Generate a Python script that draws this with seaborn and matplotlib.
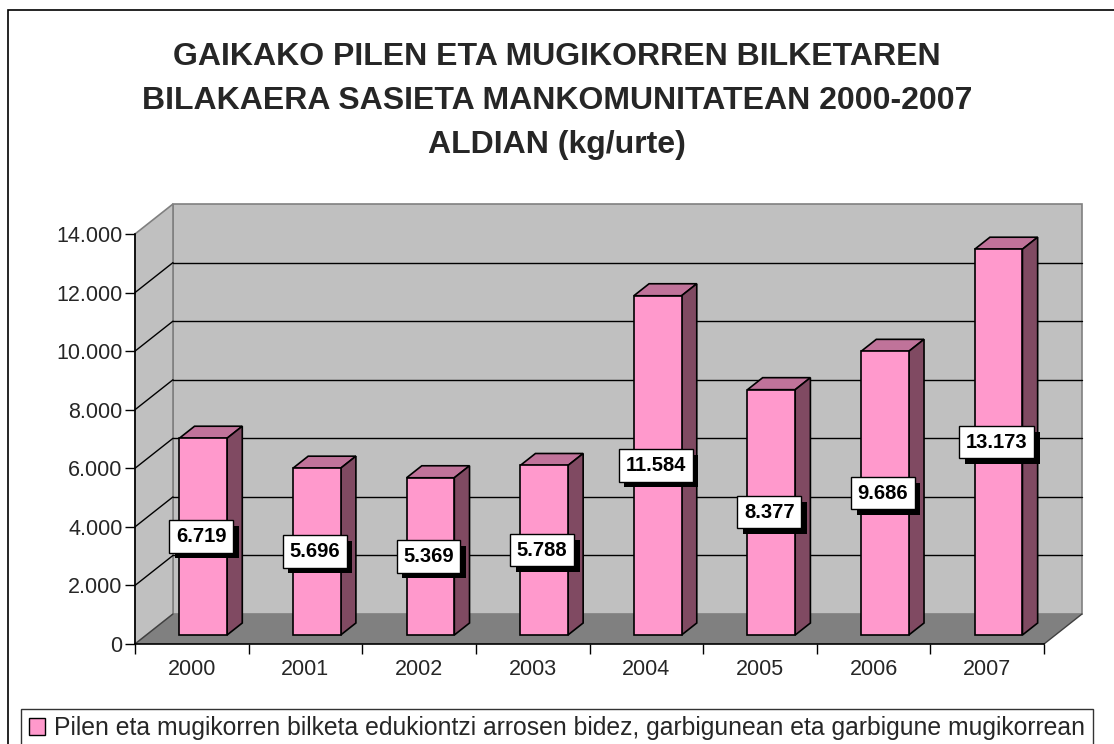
import matplotlib
matplotlib.use("Agg")
import matplotlib.pyplot as plt
import matplotlib.transforms as mtransforms
import matplotlib.patheffects as pe
from matplotlib.patches import Polygon, Rectangle, Patch
import seaborn as sns

# data
years = ["2000", "2001", "2002", "2003", "2004", "2005", "2006", "2007"]
kg = [6719, 5696, 5369, 5788, 11584, 8377, 9686, 13173]
y_ticks = [0, 2000, 4000, 6000, 8000, 10000, 12000, 14000]
title_lines = ["GAIKAKO PILEN ETA MUGIKORREN BILKETAREN",
               "BILAKAERA SASIETA MANKOMUNITATEAN 2000-2007",
               "ALDIAN (kg/urte)"]
legend_label = ("Pilen eta mugikorren bilketa edukiontzi arrosen bidez, "
                "garbigunean eta garbigune mugikorrean")

sns.set_style("white")
plt.rcParams["font.family"] = ["Liberation Sans", "DejaVu Sans"]

PINK = "#FF99CC"
TOP = "#C0739A"
SIDE = "#804A62"
WALL = "#C0C0C0"
FLOOR = "#808080"

W, H = 1114, 744
fig = plt.figure(figsize=(W / 100, H / 100), dpi=100)
# front plane of the 3d box
ax = fig.add_axes([135 / W, (H - 644) / H, 909 / W, 410 / H])
ax.set_facecolor("none")

sns.barplot(x=years, y=kg, width=0.42, color=PINK, edgecolor="black",
            linewidth=1.2, saturation=1, ax=ax, zorder=4)
bars = list(ax.patches)

ax.set_xlim(-0.5, 7.5)
ax.set_ylim(0, 14000)
ax.set_yticks(y_ticks)
ax.set_yticklabels([f"{v:,}".replace(",", ".") for v in y_ticks])
ax.set_xticks(range(len(years)))
ax.set_xticklabels(years)
ax.set_xticks([i - 0.5 for i in range(len(years) + 1)], minor=True)
ax.tick_params(axis="y", length=7, width=1, color="black", direction="out",
               pad=2, labelsize=15.5, left=True)
ax.tick_params(axis="x", which="major", length=0, pad=11, labelsize=15.5)
ax.tick_params(axis="x", which="minor", length=7, width=1, color="black",
               direction="out", bottom=True)
ax.set_xlabel("")
ax.set_ylabel("")
for s in ["top", "right"]:
    ax.spines[s].set_visible(False)
for s in ["left", "bottom"]:
    ax.spines[s].set_color("black")
    ax.spines[s].set_linewidth(1.2)
    ax.spines[s].set_zorder(6)

# depth vector of the box, in pixels
DX, DY = 38, 30
F0, F1 = 0.3, 0.7   # bar front / back depth
ident = mtransforms.IdentityTransform()


def to_px(x, y, d):
    px, py = ax.transData.transform((x, y))
    return (px + d * DX, py + d * DY)


def poly(pts, fc, ec="none", lw=1.0, z=1):
    ax.add_patch(Polygon(pts, closed=True, facecolor=fc, edgecolor=ec,
                         linewidth=lw, transform=ident, clip_on=False,
                         zorder=z))


def line(p, q, color="black", lw=1.0, z=2):
    ax.add_line(plt.Line2D([p[0], q[0]], [p[1], q[1]], color=color,
                           linewidth=lw, transform=ident, clip_on=False,
                           zorder=z))


x0, x1 = -0.5, 7.5
ymax = y_ticks[-1]
# back wall, side wall, floor
poly([to_px(x0, 0, 1), to_px(x1, 0, 1), to_px(x1, ymax, 1), to_px(x0, ymax, 1)],
     WALL, ec="#808080", lw=1.2, z=0.5)
poly([to_px(x0, 0, 0), to_px(x0, 0, 1), to_px(x0, ymax, 1), to_px(x0, ymax, 0)],
     WALL, ec="#808080", lw=1.2, z=0.5)
poly([to_px(x0, 0, 0), to_px(x1, 0, 0), to_px(x1, 0, 1), to_px(x0, 0, 1)],
     FLOOR, ec="none", z=0.6)
line(to_px(x1, 0, 0), to_px(x1, 0, 1), color="#404040", lw=1.0, z=0.7)
for v in y_ticks[1:-1]:
    line(to_px(x0, v, 1), to_px(x1, v, 1), z=0.8)
    line(to_px(x0, v, 0), to_px(x0, v, 1), z=0.8)
line(to_px(x0, 0, 0), to_px(x0, 0, 1), color="#404040", z=0.8)

# 3d bars: shift seaborn's front faces and add top/side faces
shift = mtransforms.ScaledTranslation(F0 * DX / 100, F0 * DY / 100,
                                      fig.dpi_scale_trans)
for rect, val in zip(bars, kg):
    bx, bw, bh = rect.get_x(), rect.get_width(), rect.get_height()
    rect.set_transform(ax.transData + shift)
    rect.set_clip_on(False)
    poly([to_px(bx, bh, F0), to_px(bx + bw, bh, F0),
          to_px(bx + bw, bh, F1), to_px(bx, bh, F1)],
         TOP, ec="black", lw=1.2, z=3)
    poly([to_px(bx + bw, 0, F0), to_px(bx + bw, bh, F0),
          to_px(bx + bw, bh, F1), to_px(bx + bw, 0, F1)],
         SIDE, ec="black", lw=1.2, z=3)
    cx, cy = to_px(bx + bw / 2, val / 2, F0)
    t = ax.annotate(f"{val:,}".replace(",", "."), (cx - 2, cy), xycoords=ident,
                    ha="center", va="center", fontsize=14.5, fontweight="bold",
                    color="black", zorder=8, annotation_clip=False,
                    bbox=dict(boxstyle="square,pad=0.33", fc="white",
                              ec="black", lw=1))
    # drop shadow behind the label box
    t.get_bbox_patch().set_path_effects([
        pe.SimplePatchShadow(offset=(4, -4), shadow_rgbFace="black", alpha=1),
        pe.Normal()])

# title
for i, tl in enumerate(title_lines):
    fig.text(0.5, 1 - (57 + 44 * i) / H, tl, ha="center", va="center",
             fontsize=23, fontweight="bold")

# outer chart border
fig.add_artist(Rectangle((8 / W, -0.1), 1.2, 1.1 - 10 / H, fill=False,
                         ec="black", lw=1.2, transform=fig.transFigure))

leg = fig.legend(handles=[Patch(facecolor=PINK, edgecolor="black", lw=1)],
                 labels=[legend_label], loc="center",
                 bbox_to_anchor=(0.5, 1 - 728 / H), fontsize=17.8,
                 frameon=True, fancybox=False, handlelength=0.65,
                 handleheight=0.65, handletextpad=0.4, borderpad=0.3,
                 borderaxespad=0)
leg.get_frame().set_edgecolor("black")
leg.get_frame().set_linewidth(1)

fig.savefig("out.png", dpi=100)
